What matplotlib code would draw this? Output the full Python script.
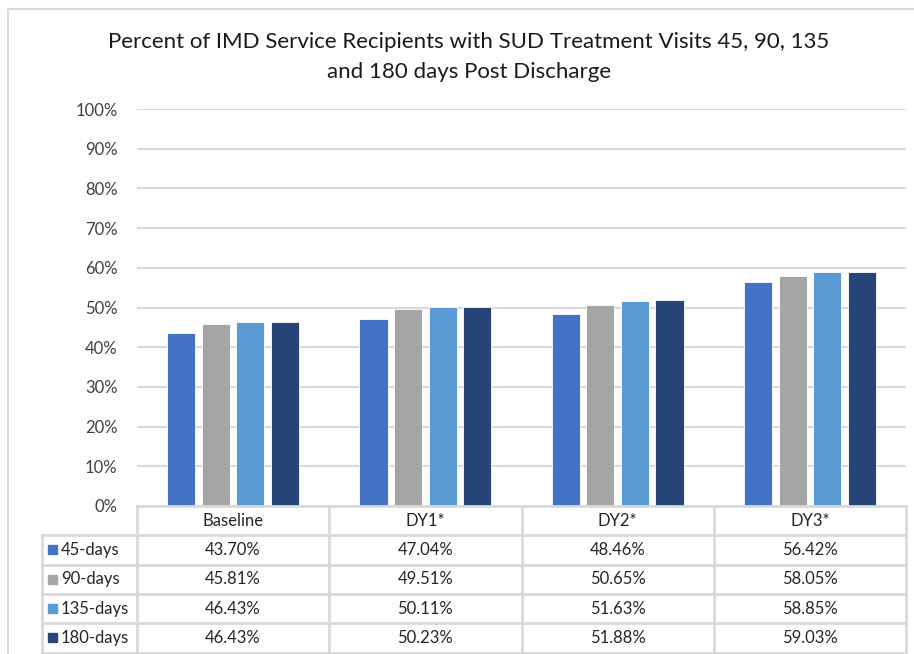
import numpy as np
import matplotlib.pyplot as plt

# chart data
periods = ["Baseline", "DY1*", "DY2*", "DY3*"]
series = ["45-days", "90-days", "135-days", "180-days"]
d45 = [43.70, 47.04, 48.46, 56.42]
d90 = [45.81, 49.51, 50.65, 58.05]
d135 = [46.43, 50.11, 51.63, 58.85]
d180 = [46.43, 50.23, 51.88, 59.03]
values = [d45, d90, d135, d180]
colors = ["#4472C4", "#A5A5A5", "#5B9BD5", "#264478"]

W, H = 914, 654
plt.rcParams["font.family"] = ["Lato", "DejaVu Sans"]
fig = plt.figure(figsize=(W / 100, H / 100), dpi=100)

# plot area in pixel units
left, right, top, bottom = 137, 906, 109, 506
ax = fig.add_axes([left / W, 1 - bottom / H, (right - left) / W, (bottom - top) / H])

n = len(periods)
x = np.arange(n)
step, bw = 0.18, 0.146
for j, (s, vals) in enumerate(zip(series, values)):
    ax.bar(x + (j - 1.5) * step, vals, bw, color=colors[j], edgecolor="white",
           linewidth=0.6, zorder=3, label=s)

ax.set_xlim(-0.5, n - 0.5)
ax.set_ylim(0, 100)
ax.set_yticks(range(0, 101, 10))
ax.set_yticklabels([f"{t}%" for t in range(0, 101, 10)], fontsize=12, color="#404040")
ax.tick_params(axis="y", length=0, pad=14)
ax.set_xticks([])
ax.grid(axis="y", color="#D9D9D9", linewidth=1.5, zorder=0)
for sp in ax.spines.values():
    sp.set_visible(False)

# overlay for title, table and outer frame (pixel coordinates)
ov = fig.add_axes([0, 0, 1, 1], facecolor="none")
ov.set_xlim(0, W)
ov.set_ylim(H, 0)
ov.axis("off")

ov.plot([8, 8, W], [H, 9, 9], color="#D9D9D9", lw=1.5)

ov.text(469, 42, "Percent of IMD Service Recipients with SUD Treatment Visits 45, 90, 135",
        ha="center", va="center", fontsize=16, color="#1a1a1a")
ov.text(469, 72, "and 180 days Post Discharge",
        ha="center", va="center", fontsize=16, color="#1a1a1a")

# data table below the plot
tcol = "#D9D9D9"
row_h = 29.3
col_w = (right - left) / n
lab_left = 42
rows_top = bottom + row_h
tbl_bottom = bottom + row_h * (len(series) + 1)

# horizontal lines
ov.plot([left, right], [bottom, bottom], color=tcol, lw=2)
for r in range(len(series) + 1):
    y = rows_top + r * row_h
    ov.plot([lab_left, right], [y, y], color=tcol, lw=2)
# vertical lines
for c in range(n + 1):
    xc = left + c * col_w
    ov.plot([xc, xc], [bottom, tbl_bottom], color=tcol, lw=2)
ov.plot([lab_left, lab_left], [rows_top, tbl_bottom], color=tcol, lw=2)

for c, p in enumerate(periods):
    ov.text(left + (c + 0.5) * col_w, bottom + row_h / 2, p, ha="center",
            va="center", fontsize=12, color="#262626")

for r, (s, vals) in enumerate(zip(series, values)):
    yc = rows_top + (r + 0.5) * row_h
    ov.add_patch(plt.Rectangle((48, yc - 4.5), 9, 9, color=colors[r]))
    ov.text(61, yc, s, ha="left", va="center", fontsize=12, color="#262626")
    for c, v in enumerate(vals):
        ov.text(left + (c + 0.5) * col_w, yc, f"{v:.2f}%", ha="center",
                va="center", fontsize=12, color="#262626")

fig.savefig("out.png", dpi=100)
